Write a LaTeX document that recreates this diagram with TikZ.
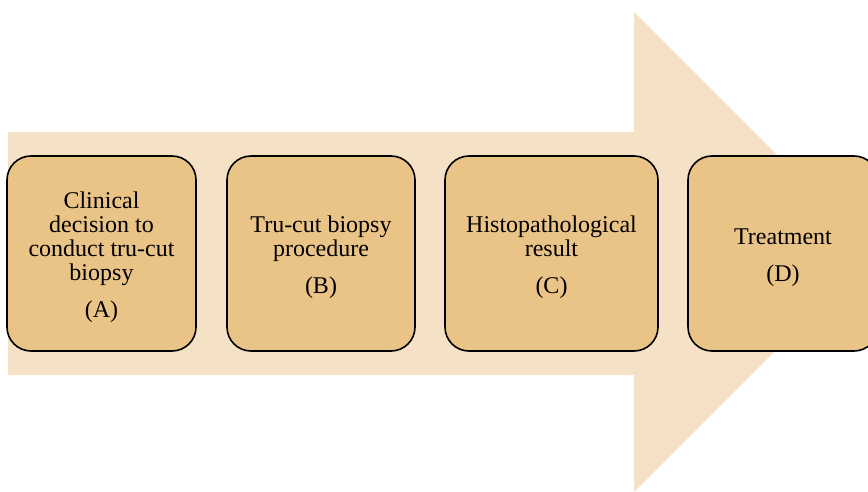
\documentclass[tikz,border=0pt]{standalone}
\usepackage{fontspec}
\setmainfont{Liberation Serif}
\definecolor{arrowfill}{HTML}{F5E2C6}
\definecolor{boxfill}{HTML}{EAC387}
\begin{document}
\begin{tikzpicture}[x=1pt,y=-1pt,
  stagebox/.style={draw=black, line width=1.6pt, fill=boxfill, rounded corners=24pt,
    minimum height=195pt, inner sep=0pt},
  stagetext/.style={inner sep=0pt, align=center,
    font=\fontsize{24}{24}\selectfont}]
\useasboundingbox (0,0) rectangle (868,492);
\clip (0,0) rectangle (868,492);
\fill[arrowfill] (8,132) -- (634,132) -- (634,12) -- (874,252) -- (634,492) -- (634,375) -- (8,375) -- cycle;
\node[stagebox, minimum width=189pt] (A) at (101.5,253.5) {};
\node[stagebox, minimum width=188pt] (B) at (321,253.5) {};
\node[stagebox, minimum width=213pt] (C) at (551.5,253.5) {};
\node[stagebox, minimum width=190pt] (D) at (783,253.5) {};
\node[stagetext] (At) at ([yshift=-4pt]A.center) {Clinical\\decision to\\conduct tru-cut\\biopsy\\[13pt](A)};
\node[stagetext] (Bt) at ([yshift=-4pt]B.center) {Tru-cut biopsy\\procedure\\[13pt](B)};
\node[stagetext] (Ct) at ([yshift=-4pt]C.center) {Histopathological\\result\\[13pt](C)};
\node[stagetext] (Dt) at ([yshift=-4pt]D.center) {Treatment\\[13pt](D)};
\end{tikzpicture}
\end{document}
